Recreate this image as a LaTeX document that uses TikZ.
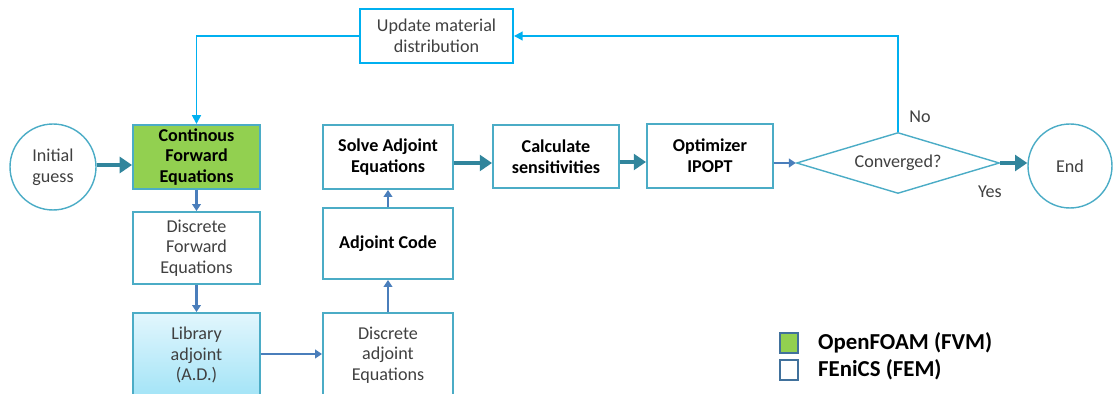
\documentclass[tikz,border=0pt]{standalone}
\usepackage{fontspec}
\setmainfont{Carlito}
\usetikzlibrary{shapes.geometric, arrows.meta}

\definecolor{boxline}{HTML}{4BACC6}
\definecolor{greenfill}{HTML}{92D050}
\definecolor{tealarrow}{HTML}{31859C}
\definecolor{bluearrow}{HTML}{4A7EBB}
\definecolor{loopline}{HTML}{00B0F0}
\definecolor{libtop}{HTML}{E2F6FD}
\definecolor{libbot}{HTML}{A3E4F7}
\definecolor{legline}{HTML}{41719C}
\definecolor{txtgray}{HTML}{404040}

\begin{document}
\begin{tikzpicture}[x=0.02cm, y=-0.02cm,
    font=\fontsize{10.3}{11.8}\selectfont, text=txtgray,
    box/.style = {draw=boxline, line width=1.1pt, align=center, inner sep=2pt},
    bold/.style = {font=\fontsize{10.3}{11.8}\selectfont\bfseries, text=black},
    term/.style = {draw=boxline, line width=0.8pt, circle, align=center, inner sep=0pt},
    thickar/.style = {draw=tealarrow, line width=2.8pt, -{Triangle[length=7pt, width=9pt]}},
    ar/.style = {draw=bluearrow, line width=1.3pt, -{Triangle[length=4pt, width=5pt]}},
    loop/.style = {draw=loopline, line width=1.1pt, -{Triangle[length=5pt, width=5pt]}},
    legbox/.style = {draw=legline, line width=1pt, minimum width=0.36cm, minimum height=0.4cm, inner sep=0pt}]
        \clip (0,0) rectangle (1113,394);

        \node[term, minimum size=1.72cm] (init) at (53,167) {Initial\\guess};
        \node[box, bold, fill=greenfill, minimum width=2.54cm, minimum height=1.28cm] (cont) at (196.5,157) {Continous\\Forward\\Equations};
        \node[box, minimum width=2.54cm, minimum height=1.44cm] (dfwd) at (196.5,248) {Discrete\\Forward\\Equations};
        \node[box, top color=libtop, bottom color=libbot, minimum width=2.54cm, minimum height=1.68cm] (lib) at (196.5,355) {Library\\adjoint\\(A.D.)};

        \node[box, minimum width=2.6cm, minimum height=1.68cm] (dadj) at (388,355) {Discrete\\adjoint\\Equations};
        \node[box, bold, minimum width=2.6cm, minimum height=1.42cm] (code) at (388,243.5) {Adjoint Code};
        \node[box, bold, minimum width=2.6cm, minimum height=1.28cm] (solve) at (388,157) {Solve Adjoint\\Equations};

        \node[box, bold, minimum width=2.52cm, minimum height=1.26cm] (calc) at (556,156.5) {Calculate\\sensitivities};
        \node[box, bold, minimum width=2.52cm, minimum height=1.28cm] (opt) at (710,156) {Optimizer\\IPOPT};
        \node[diamond, draw=boxline, line width=0.8pt, aspect=3.3, inner sep=0pt, minimum width=4.06cm, minimum height=1.22cm] (conv) at (898,163) {Converged?};
        \node[term, minimum size=1.68cm] (end) at (1070,166) {End};

        \node[draw=loopline, line width=1.1pt, align=center, minimum width=3.06cm, minimum height=1.08cm] (update) at (436.5,36) {Update material\\distribution};

        \node (no) at (920,117) {No};
        \node (yes) at (990,192) {Yes};

        % main flow
        \draw[thickar] (init.east |- 0,165) -- (cont.west |- 0,165);
        \draw[ar] (cont) -- (dfwd);
        \draw[ar] (dfwd) -- (lib);
        \draw[ar] (lib.east |- 0,354) -- (dadj.west |- 0,354);
        \draw[ar] (dadj) -- (code);
        \draw[ar] (code) -- (solve);
        \draw[thickar] (solve.east |- 0,163) -- (calc.west |- 0,163);
        \draw[thickar] (calc.east |- 0,162) -- (opt.west |- 0,162);
        \draw[ar] (opt.east |- conv) -- (conv.west);
        \draw[thickar] (conv.east) -- (end.west |- conv);

        % feedback loop
        \draw[loop] (conv.north) |- (update.east);
        \draw[loop] (update.west) -| (cont.north);

        % legend
        \node[legbox, fill=greenfill] (legfoam) at (789,343) {};
        \node[legbox, fill=white] (legfen) at (789,370) {};
        \node[anchor=west, font=\fontsize{13}{15}\selectfont\bfseries, text=black] (foam) at (812,343) {OpenFOAM (FVM)};
        \node[anchor=west, font=\fontsize{13}{15}\selectfont\bfseries, text=black] (fen) at (812,370) {FEniCS (FEM)};
    \end{tikzpicture}
\end{document}
